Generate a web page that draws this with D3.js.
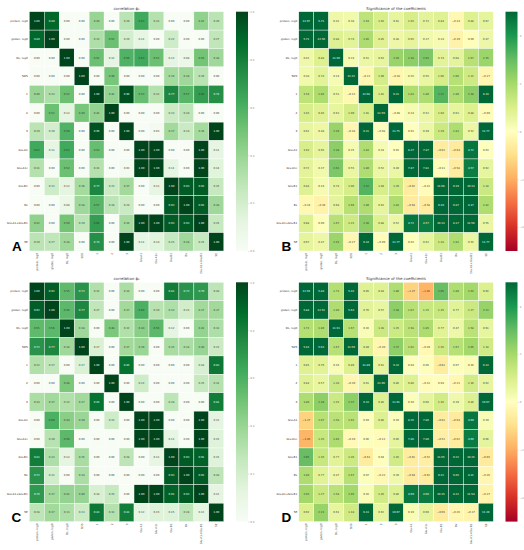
<!DOCTYPE html>
<html>
<head>
<meta charset="utf-8">
<script src="https://cdn.jsdelivr.net/npm/d3@7/dist/d3.min.js"></script>
<style>html,body{margin:0;padding:0;background:#fff}svg{display:block}</style>
</head>
<body>
<svg id="c" width="524" height="550"></svg>
<script>
const labels = ["protein, log0","gluten, log0","DL, log0","SDS","1","2","3","Glu-A1","Glu-A1c","Glu-B1","Bx","Glu-A1+Glu-B1","SE"];
const greens = ["#f7fcf5","#e5f5e0","#c7e9c0","#a1d99b","#74c476","#41ab5d","#238b45","#006d2c","#00441b"];
const rdYlGn = ["#a50026","#d73027","#f46d43","#fdae61","#fee08b","#ffffbf","#d9ef8b","#a6d96a","#66bd63","#1a9850","#006837"];
const corrTicks = [0,0.2,0.4,0.6,0.8,1];
const signifTicks = [-4,-2,0,2,4];

const corrA = [
[1.00,0.89,0.00,0.00,0.40,0.00,0.29,0.63,0.31,0.00,0.00,0.42,0.29],
[0.89,1.00,0.00,0.00,0.33,0.52,0.20,0.11,0.00,0.22,0.00,0.00,0.27],
[0.00,0.00,1.00,0.00,0.52,0.12,0.59,0.63,0.52,0.12,0.08,0.50,0.38],
[0.00,0.00,0.00,1.00,0.00,0.49,0.00,0.00,0.00,0.36,0.38,0.29,0.00],
[0.40,0.33,0.52,0.00,1.00,0.41,0.96,0.53,0.31,0.77,0.57,0.68,0.74],
[0.00,0.52,0.12,0.49,0.41,1.00,0.00,0.00,0.00,0.23,0.28,0.00,0.00],
[0.29,0.20,0.59,0.00,0.96,0.00,1.00,0.00,0.03,0.37,0.24,0.36,1.00],
[0.63,0.11,0.63,0.00,0.53,0.00,0.00,1.00,1.00,0.00,0.00,1.00,0.11],
[0.31,0.00,0.52,0.00,0.31,0.00,0.03,1.00,1.00,0.11,0.00,1.00,0.14],
[0.00,0.22,0.12,0.36,0.77,0.23,0.37,0.00,0.11,1.00,0.93,0.93,0.25],
[0.00,0.00,0.08,0.38,0.57,0.28,0.24,0.00,0.00,0.93,1.00,0.93,0.38],
[0.42,0.00,0.50,0.29,0.68,0.00,0.36,1.00,1.00,0.93,0.93,1.00,0.25],
[0.29,0.27,0.38,0.00,0.74,0.00,1.00,0.11,0.14,0.25,0.38,0.25,1.00]];

const signifB = [
[12.97,5.71,0.42,0.38,1.54,1.03,0.61,1.03,0.72,0.84,-0.24,0.88,0.67],
[5.71,12.59,0.88,0.74,1.85,0.85,0.48,0.65,0.37,0.24,-0.39,0.09,0.47],
[0.42,0.88,11.90,0.24,0.51,0.63,2.19,2.38,2.63,0.74,0.68,1.67,2.15],
[0.38,0.74,0.24,12.32,-0.23,1.09,-0.28,0.25,0.55,1.06,1.66,1.21,-0.27],
[1.54,1.85,0.51,-0.23,12.08,1.01,6.21,1.83,1.80,3.22,1.80,2.38,6.24],
[1.03,0.85,0.63,1.09,1.01,11.59,-0.08,0.24,0.52,1.04,0.63,0.88,-0.09],
[0.61,0.48,2.19,-0.28,6.21,-0.08,11.75,0.03,0.49,1.29,1.83,0.52,11.77],
[1.03,0.65,2.38,0.25,1.83,0.24,0.03,8.37,7.87,-0.62,-0.64,4.72,0.03],
[0.72,0.37,2.63,0.55,1.80,0.52,0.49,7.87,7.81,-0.11,-0.58,4.57,0.62],
[0.84,0.24,0.74,1.06,3.22,1.04,1.29,-0.62,-0.11,11.66,9.19,10.33,1.28],
[-0.24,-0.39,0.68,1.66,1.80,0.63,1.83,-0.64,-0.58,9.19,9.87,8.17,1.82],
[0.88,0.09,1.67,1.21,2.38,0.88,0.52,4.72,4.57,10.33,8.17,11.56,0.55],
[0.67,0.47,2.15,-0.27,6.24,-0.09,11.77,0.03,0.62,1.28,1.82,0.55,11.77]];

const corrC = [
[1.00,0.92,0.55,0.72,0.32,0.00,0.34,0.00,0.00,0.81,0.72,0.70,0.28],
[0.92,1.00,0.56,0.77,0.27,0.00,0.37,0.60,0.30,0.33,0.21,0.37,0.37],
[0.55,0.56,1.00,0.38,0.00,0.48,0.32,0.44,0.56,0.12,0.00,0.41,0.33],
[0.72,0.77,0.38,1.00,0.17,0.00,0.37,0.39,0.00,0.35,0.34,0.40,0.23],
[0.32,0.27,0.00,0.17,1.00,0.00,0.85,0.00,0.00,0.00,0.00,0.18,0.83],
[0.00,0.00,0.48,0.00,0.00,1.00,0.00,0.22,0.00,0.00,0.00,0.25,0.31],
[0.34,0.37,0.32,0.37,0.85,0.00,1.00,0.00,0.00,0.28,0.00,0.00,0.81],
[0.00,0.60,0.44,0.39,0.00,0.22,0.00,1.00,1.00,0.00,0.00,1.00,0.12],
[0.00,0.30,0.56,0.00,0.00,0.00,0.00,1.00,1.00,0.11,0.00,1.00,0.15],
[0.81,0.33,0.12,0.35,0.00,0.00,0.28,0.00,0.11,1.00,0.93,0.91,0.15],
[0.72,0.21,0.00,0.34,0.00,0.00,0.00,0.00,0.00,0.93,1.00,0.93,0.28],
[0.70,0.37,0.41,0.40,0.18,0.25,0.00,1.00,1.00,0.91,0.93,1.00,0.12],
[0.28,0.37,0.33,0.23,0.83,0.31,0.81,0.12,0.15,0.15,0.28,0.12,1.00]];

const signifD = [
[12.59,5.84,1.73,5.42,0.85,0.84,1.80,-1.27,-1.85,2.95,1.80,2.03,0.92],
[5.84,12.51,1.80,5.63,0.76,0.57,2.38,1.67,1.35,1.35,0.77,1.27,2.23],
[1.73,1.80,11.91,1.67,0.16,1.28,1.25,1.58,1.85,0.77,0.47,1.58,0.61],
[5.42,5.63,1.67,11.59,0.89,-0.30,2.37,1.62,-0.19,1.26,1.67,2.05,1.18],
[0.85,0.76,0.16,0.89,11.89,0.61,6.33,0.04,0.06,-0.61,0.07,0.16,6.13],
[0.84,0.57,1.28,-0.30,0.61,11.96,0.86,0.86,-0.13,0.04,-0.23,1.16,0.62],
[1.80,2.38,1.25,2.37,6.33,0.86,11.91,0.10,0.66,1.16,0.39,0.86,10.67],
[-1.27,1.67,1.58,1.62,0.04,0.86,0.10,8.35,7.86,-0.61,-0.64,4.69,0.19],
[-1.85,1.35,1.85,-0.19,0.06,-0.13,0.66,7.86,7.80,-0.52,-0.62,4.60,0.66],
[2.95,1.35,0.77,1.26,-0.61,0.04,1.16,-0.61,-0.52,11.65,9.22,10.35,-0.65],
[1.80,0.77,0.47,1.67,0.07,-0.23,0.39,-0.64,-0.62,9.22,9.85,8.21,-0.26],
[2.03,1.27,1.58,2.05,0.16,1.16,0.86,4.69,4.60,10.35,8.21,11.54,-0.37],
[0.92,2.23,0.61,1.18,6.13,0.62,10.67,0.19,0.66,-0.65,-0.26,-0.37,11.39]];

const svg = d3.select("#c");
const FONT = "'DejaVu Sans', sans-serif";
const defs = svg.append("defs");

// Relative luminance picks light or dark annotation text.
function lum(c){
  const r = d3.rgb(c);
  const f = v => { v/=255; return v<=0.03928 ? v/12.92 : Math.pow((v+0.055)/1.055,2.4); };
  return 0.2126*f(r.r) + 0.7152*f(r.g) + 0.0722*f(r.b);
}

function panel(o){
  const {id,matrix,palette,lo,hi,ticks,title,letter,x0,y0,lx,ly} = o;
  const W = 194.5, H = 239.3;
  const g = svg.append("g").attr("transform",`translate(${x0},${y0})`);
  const xs = d3.scaleBand().domain(labels).range([0,W]).padding(0);
  const ys = d3.scaleBand().domain(labels).range([0,H]).padding(0);
  const color = d3.scaleLinear()
    .domain(palette.map((_,i)=> lo + (hi-lo)*i/(palette.length-1)))
    .range(palette).clamp(true);

  const cells = matrix.flatMap((row,r)=>row.map((v,c)=>({v,r:labels[r],c:labels[c]})));
  g.append("g").selectAll("rect").data(cells).join("rect")
    .attr("x",d=>xs(d.c)).attr("y",d=>ys(d.r))
    .attr("width",xs.bandwidth()).attr("height",ys.bandwidth())
    .attr("fill",d=>color(d.v)).attr("stroke","#fff").attr("stroke-width",0.4);
  g.append("g").selectAll("text").data(cells).join("text")
    .attr("x",d=>xs(d.c)+xs.bandwidth()/2).attr("y",d=>ys(d.r)+ys.bandwidth()/2)
    .attr("dy","0.35em").attr("text-anchor","middle")
    .attr("font-family",FONT).attr("font-size",2.6)
    .attr("fill",d=>lum(color(d.v))>0.24?"#333":"#fff")
    .text(d=>d3.format(".2f")(d.v));

  const left = g.append("g").call(d3.axisLeft(ys).tickSize(0).tickPadding(1.6));
  left.select(".domain").remove();
  left.selectAll("text").attr("font-family",FONT).attr("font-size",2.75).attr("fill","#333");

  const bottom = g.append("g").attr("transform",`translate(0,${H})`)
    .call(d3.axisBottom(xs).tickSize(0).tickPadding(0));
  bottom.select(".domain").remove();
  bottom.selectAll("text").attr("font-family",FONT).attr("font-size",2.75).attr("fill","#333")
    .attr("transform","rotate(-90)").attr("text-anchor","end")
    .attr("x",-2).attr("y",0).attr("dy","0.35em");

  g.append("text").attr("x",W/2).attr("y",-2).attr("text-anchor","middle")
    .attr("font-family",FONT).attr("font-size",3.9).attr("fill","#333").text(title);

  // colour bar
  const gid = "grad"+id;
  const lg = defs.append("linearGradient").attr("id",gid).attr("x1",0).attr("y1",1).attr("x2",0).attr("y2",0);
  lg.selectAll("stop").data(palette).join("stop")
    .attr("offset",(_,i)=>i/(palette.length-1)).attr("stop-color",d=>d);
  const cb = g.append("g").attr("transform",`translate(${W+12.2},0)`);
  const bar = 12;
  cb.append("rect").attr("width",bar).attr("height",H).attr("fill",`url(#${gid})`);
  const cy = d3.scaleLinear().domain([lo,hi]).range([H,0]);
  const ax = cb.append("g").attr("transform",`translate(${bar},0)`)
    .call(d3.axisRight(cy).tickValues(ticks).tickSize(1.5).tickPadding(0.8)
      .tickFormat(hi===1?d3.format(".1f"):d3.format("d")));
  ax.select(".domain").remove();
  ax.selectAll("line").attr("stroke","#bbb").attr("stroke-width",0.4);
  ax.selectAll("text").attr("font-family",FONT).attr("font-size",2.6).attr("fill","#888");

  svg.append("text").attr("x",lx).attr("y",ly)
    .attr("font-family","'Liberation Sans', Arial, sans-serif").attr("font-weight","700")
    .attr("font-size",13.5).attr("fill","#000").text(letter);
}

panel({id:"A",matrix:corrA,palette:greens,lo:0,hi:1,ticks:corrTicks,title:"correlation ϕ₁",letter:"A",x0:29.3,y0:11.7,lx:12,ly:251});
panel({id:"B",matrix:signifB,palette:rdYlGn,lo:-5,hi:5,ticks:signifTicks,title:"Significance of the coefficients",letter:"B",x0:298.8,y0:11.7,lx:281.5,ly:251});
panel({id:"C",matrix:corrC,palette:greens,lo:0,hi:1,ticks:corrTicks,title:"correlation ϕ₂",letter:"C",x0:29.3,y0:282.3,lx:11.5,ly:522});
panel({id:"D",matrix:signifD,palette:rdYlGn,lo:-5,hi:5,ticks:signifTicks,title:"Significance of the coefficients",letter:"D",x0:298.8,y0:282.3,lx:281.5,ly:522});
</script>
</body>
</html>
